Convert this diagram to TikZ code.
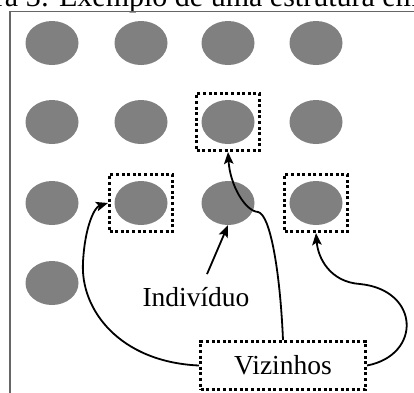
\documentclass[tikz,border=0pt]{standalone}
\usepackage{fontspec}
\setmainfont{Liberation Serif}
\usetikzlibrary{arrows.meta,shapes.geometric}

\begin{document}
\begin{tikzpicture}[x=1pt,y=-1pt,
	cell/.style={ellipse,fill=gray,inner sep=0pt,minimum width=53pt,minimum height=44pt},
	nbbox/.style={draw,line width=3pt,dash pattern=on 3pt off 2.6pt,minimum width=63pt,minimum height=57pt,inner sep=0pt},
	lbl/.style={font=\fontsize{27.5}{33}\selectfont,inner sep=0pt},
	arr/.style={line width=1.8pt,-{Stealth[length=12pt,width=9.5pt,inset=2.5pt]}}]
	\useasboundingbox (0,0) rectangle (414,392);
	% title and frame
	\node[anchor=base,font=\fontsize{30}{36}\selectfont,inner sep=0pt] (ttl) at (207,6) {ra 3: Exemplo de uma estrutura em};
	\draw[line width=1.3pt,gray!80!black] (10,400) -- (10,11.5) -- (420,11.5);
	% grid of individuals
	\foreach \r/\y in {1/43,2/122,3/203}
		\foreach \c/\x in {1/52,2/141,3/228,4/316}
			\node[cell] (c-\r-\c) at (\x,\y) {};
	\node[cell] (c-4-1) at (52,283) {};
	% neighbours
	\node[nbbox] (nb-1) at (c-2-3) {};
	\node[nbbox] (nb-2) at (c-3-2) {};
	\node[nbbox] (nb-3) at (c-3-4) {};
	% labels
	\node[lbl] (ind) at (196,297) {Indivíduo};
	\node[nbbox,lbl,minimum width=165pt,minimum height=48pt] (vz) at (283,365.5) {Vizinhos};
	% arrows
	\draw[arr] ([xshift=11pt,yshift=13pt]ind.north) -- (c-3-3.south);
	\draw[arr] (vz.north) .. controls (280,270) and (270,214) .. (258,212)
		.. controls (245,211) and (230,185) .. (nb-1.south);
	\draw[arr] (vz.west) .. controls (120,362) and (80,310) .. (83,262)
		.. controls (85,225) and (95,207) .. (nb-2.west);
	\draw[arr] (vz.east) .. controls (422,355) and (420,290) .. (360,284)
		.. controls (330,282) and (318,258) .. (nb-3.south);
\end{tikzpicture}
\end{document}
